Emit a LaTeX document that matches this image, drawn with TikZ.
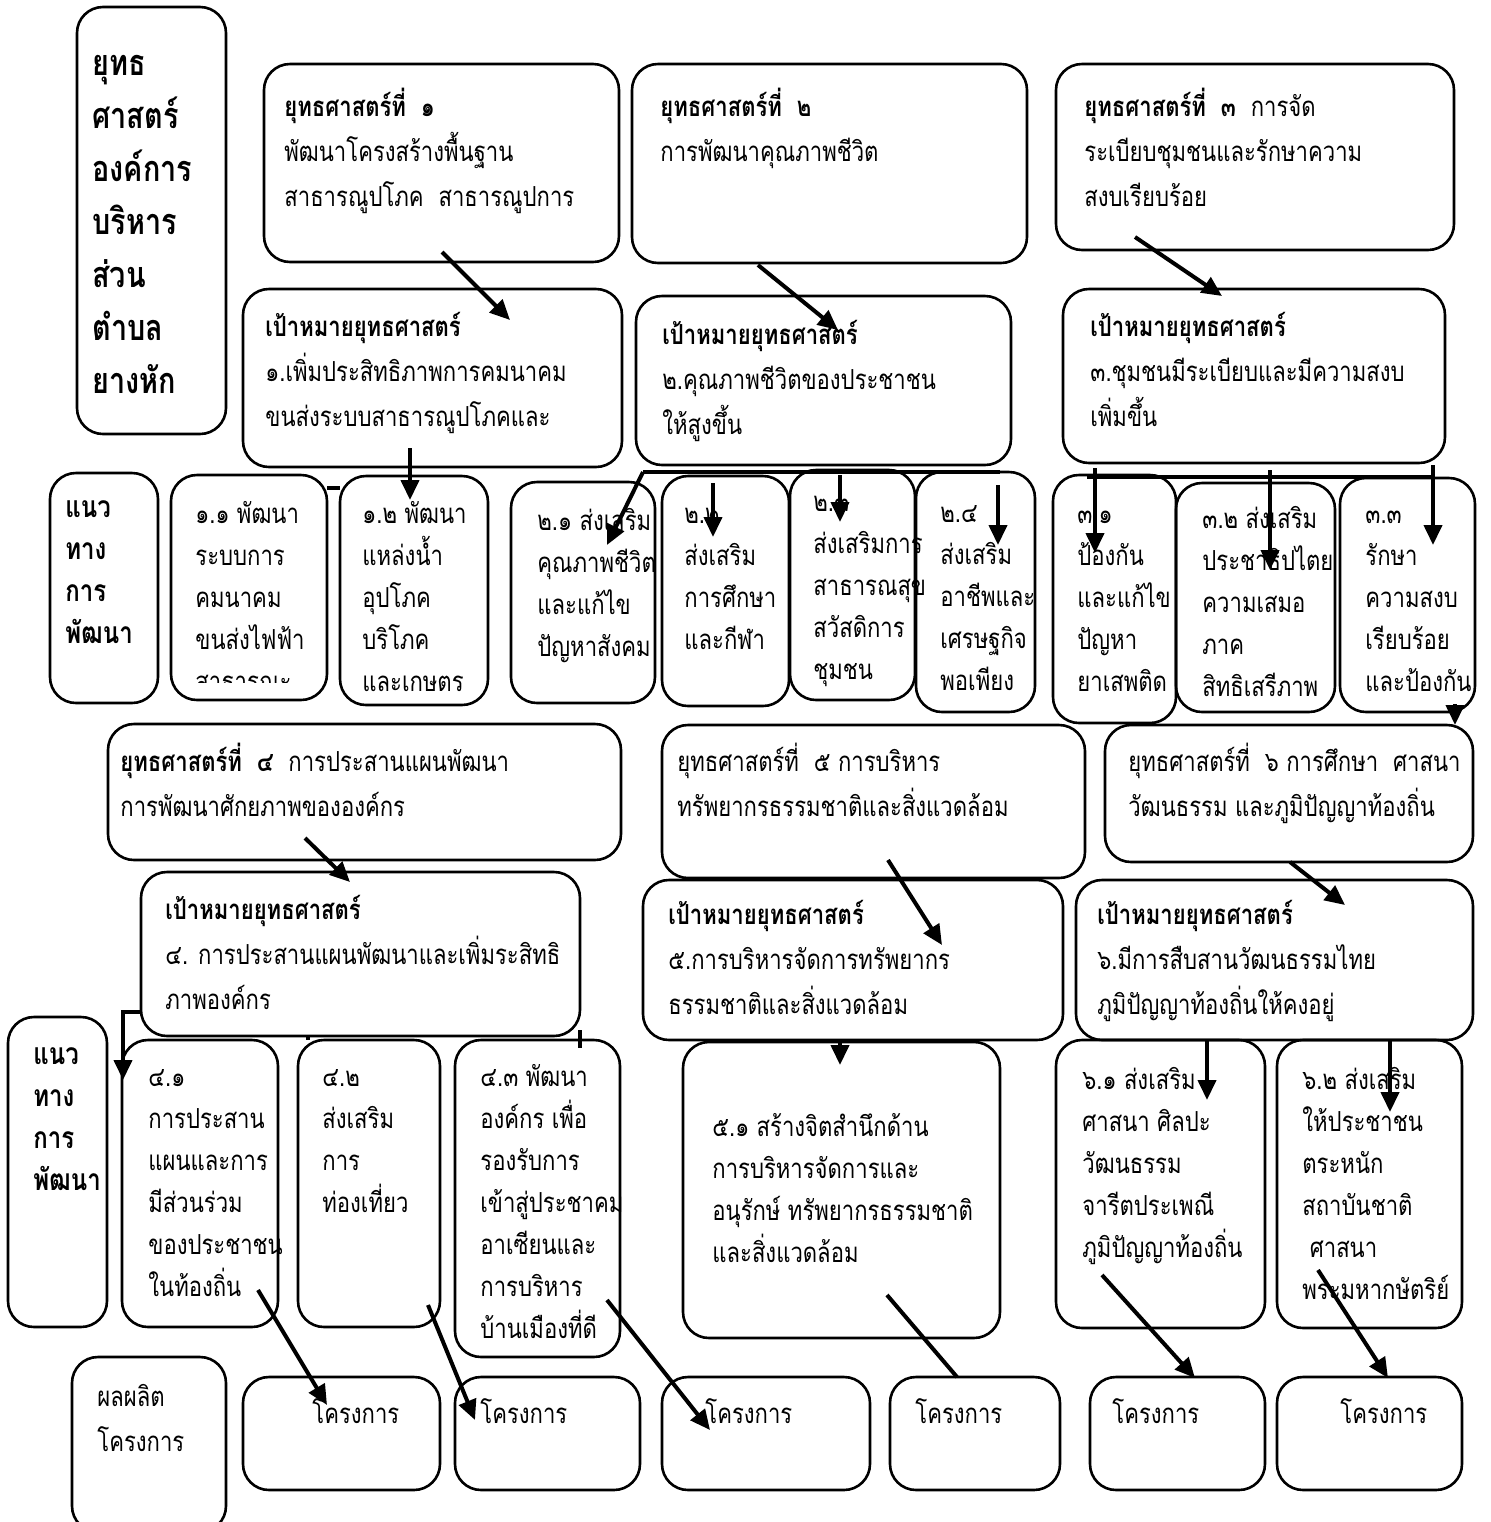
\documentclass[tikz,border=0pt]{standalone}
\usepackage{fontspec}
\newfontfamily\thai[Script=Thai,FakeStretch=0.8]{Loma}
\usetikzlibrary{arrows.meta,calc}

\begin{document}
\begin{tikzpicture}[
x=0.5pt, y=-0.5pt,
block/.style={rectangle, draw, line width=1.3pt, rounded corners=13pt, inner sep=0pt, outer sep=0pt, anchor=north west},
sz/.style 2 args={minimum width=#1*0.5pt, minimum height=#2*0.5pt},
txt/.style={anchor=north west, align=left, inner sep=0pt, font=\thai\fontsize{13.8}{22.5}\selectfont},
tnar/.style={txt, font=\thai\fontsize{13.8}{21}\selectfont},
thead/.style={txt, font=\thai\bfseries\fontsize{18}{26.5}\selectfont},
tway/.style={txt, font=\thai\bfseries\fontsize{15}{21}\selectfont},
arr/.style={line width=2pt, -{Triangle[length=10pt,width=9pt]}},
ln/.style={line width=2pt}
]
\useasboundingbox (0,0) rectangle (1490,1522);

% strategies and goals, top part
\node[block, sz={149}{427}] (title) at (77,7) {};
\node[block, sz={355}{198}] (strat1) at (264,64) {};
\node[block, sz={395}{199}] (strat2) at (632,64) {};
\node[block, sz={398}{186}] (strat3) at (1056,64) {};
\node[block, sz={379}{178}] (goal1) at (243,289) {};
\node[block, sz={375}{169}] (goal2) at (636,296) {};
\node[block, sz={382}{174}] (goal3) at (1063,289) {};

% ways, first row
\node[block, sz={108}{230}] (wayA) at (50,473) {};
\node[block, sz={156}{225}] (way11) at (171,475) {};
\node[block, sz={148}{229}] (way12) at (340,476) {};
\node[block, sz={144}{221}] (way21) at (511,482) {};
\node[block, sz={127}{230}] (way22) at (662,476) {};
\node[block, sz={125}{230}] (way23) at (790,470) {};
\node[block, sz={119}{240}] (way24) at (916,472) {};
\node[block, sz={123}{248}] (way31) at (1053,475) {};
\node[block, sz={159}{229}] (way32) at (1176,483) {};
\node[block, sz={135}{234}] (way33) at (1340,478) {};

% strategies and goals, lower part
\node[block, sz={513}{136}] (strat4) at (108,724) {};
\node[block, sz={423}{153}] (strat5) at (662,725) {};
\node[block, sz={368}{137}] (strat6) at (1105,725) {};
\node[block, sz={439}{164}] (goal4) at (141,872) {};
\node[block, sz={420}{160}] (goal5) at (643,880) {};
\node[block, sz={397}{160}] (goal6) at (1076,880) {};

% ways, second row
\node[block, sz={99}{310}] (wayB) at (8,1017) {};
\node[block, sz={156}{287}] (way41) at (122,1040) {};
\node[block, sz={142}{287}] (way42) at (298,1040) {};
\node[block, sz={165}{317}] (way43) at (455,1040) {};
\node[block, sz={317}{296}] (way51) at (683,1042) {};
\node[block, sz={209}{288}] (way61) at (1056,1040) {};
\node[block, sz={185}{288}] (way62) at (1277,1040) {};

% outputs
\node[block, sz={154}{175}] (output) at (72,1357) {};
\node[block, sz={197}{113}] (proj1) at (243,1377) {};
\node[block, sz={185}{113}] (proj2) at (455,1377) {};
\node[block, sz={208}{113}] (proj3) at (662,1377) {};
\node[block, sz={170}{113}] (proj4) at (890,1377) {};
\node[block, sz={175}{113}] (proj5) at (1090,1377) {};
\node[block, sz={185}{113}] (proj6) at (1277,1377) {};

% texts
\node[thead] (titletext) at (92,38) {\strut ยุทธ\\ศาสตร์\\องค์การ\\บริหาร\\ส่วน\\ตำบล\\ยางหัก};
\node[txt] (strat1text) at (284,85) {\strut\textbf{ยุทธศาสตร์ที่~ ๑}\\พัฒนาโครงสร้างพื้นฐาน\\สาธารณูปโภค~ สาธารณูปการ};
\node[txt] (strat2text) at (660,85) {\strut\textbf{ยุทธศาสตร์ที่~ ๒}\\การพัฒนาคุณภาพชีวิต};
\node[txt] (strat3text) at (1084,85) {\strut\textbf{ยุทธศาสตร์ที่~ ๓}~ การจัด\\ระเบียบชุมชนและรักษาความ\\สงบเรียบร้อย};
\node[txt] (goal1text) at (265,305) {\strut\textbf{เป้าหมายยุทธศาสตร์}\\๑.เพิ่มประสิทธิภาพการคมนาคม\\ขนส่งระบบสาธารณูปโภคและ};
\node[txt] (goal2text) at (662,313) {\strut\textbf{เป้าหมายยุทธศาสตร์}\\๒.คุณภาพชีวิตของประชาชน\\ให้สูงขึ้น};
\node[txt] (goal3text) at (1090,305) {\strut\textbf{เป้าหมายยุทธศาสตร์}\\๓.ชุมชนมีระเบียบและมีความสงบ\\เพิ่มขึ้น};

\node[tway] (wayAtext) at (65,488) {\strut แนว\\ทาง\\การ\\พัฒนา};
\begin{scope}
\clip (171,475) rectangle (327,682);
\node[tnar] (way11text) at (195,494) {\strut ๑.๑ พัฒนา\\ระบบการ\\คมนาคม\\ขนส่งไฟฟ้า\\สาธารณะ};
\end{scope}
\node[tnar] (way12text) at (362,494) {\strut ๑.๒ พัฒนา\\แหล่งน้ำ\\อุปโภค\\บริโภค\\และเกษตร};
\node[tnar] (way21text) at (537,501) {\strut ๒.๑ ส่งเสริม\\คุณภาพชีวิต\\และแก้ไข\\ปัญหาสังคม};
\node[tnar] (way22text) at (684,494) {\strut ๒.๒\\ส่งเสริม\\การศึกษา\\และกีฬา};
\node[tnar] (way23text) at (813,482) {\strut ๒.๓\\ส่งเสริมการ\\สาธารณสุข\\สวัสดิการ\\ชุมชน};
\node[tnar] (way24text) at (940,493) {\strut ๒.๔\\ส่งเสริม\\อาชีพและ\\เศรษฐกิจ\\พอเพียง};
\node[tnar] (way31text) at (1077,494) {\strut ๓.๑\\ป้องกัน\\และแก้ไข\\ปัญหา\\ยาเสพติด};
\node[tnar] (way32text) at (1202,499) {\strut ๓.๒ ส่งเสริม\\ประชาธิปไตย\\ความเสมอ\\ภาค\\สิทธิเสรีภาพ};
\node[tnar] (way33text) at (1365,494) {\strut ๓.๓\\รักษา\\ความสงบ\\เรียบร้อย\\และป้องกัน};

\node[txt] (strat4text) at (120,740) {\strut\textbf{ยุทธศาสตร์ที่~ ๔}~ การประสานแผนพัฒนา\\การพัฒนาศักยภาพขององค์กร};
\node[txt] (strat5text) at (677,740) {\strut ยุทธศาสตร์ที่~ ๕ การบริหาร\\ทรัพยากรธรรมชาติและสิ่งแวดล้อม};
\node[txt] (strat6text) at (1128,740) {\strut ยุทธศาสตร์ที่~ ๖ การศึกษา~ ศาสนา\\วัฒนธรรม และภูมิปัญญาท้องถิ่น};
\node[txt] (goal4text) at (165,888) {\strut\textbf{เป้าหมายยุทธศาสตร์}\\๔. การประสานแผนพัฒนาและเพิ่มระสิทธิ\\ภาพองค์กร};
\node[txt] (goal5text) at (668,893) {\strut\textbf{เป้าหมายยุทธศาสตร์}\\๕.การบริหารจัดการทรัพยากร\\ธรรมชาติและสิ่งแวดล้อม};
\node[txt] (goal6text) at (1097,893) {\strut\textbf{เป้าหมายยุทธศาสตร์}\\๖.มีการสืบสานวัฒนธรรมไทย\\ภูมิปัญญาท้องถิ่นให้คงอยู่};

\node[tway] (wayBtext) at (33,1035) {\strut แนว\\ทาง\\การ\\พัฒนา};
\node[tnar] (way41text) at (148,1057) {\strut ๔.๑\\การประสาน\\แผนและการ\\มีส่วนร่วม\\ของประชาชน\\ในท้องถิ่น};
\node[tnar] (way42text) at (322,1057) {\strut ๔.๒\\ส่งเสริม\\การ\\ท่องเที่ยว};
\node[tnar] (way43text) at (480,1057) {\strut ๔.๓ พัฒนา\\องค์กร เพื่อ\\รองรับการ\\เข้าสู่ประชาคม\\อาเซียนและ\\การบริหาร\\บ้านเมืองที่ดี};
\node[tnar] (way51text) at (712,1107) {\strut ๕.๑ สร้างจิตสำนึกด้าน\\การบริหารจัดการและ\\อนุรักษ์ ทรัพยากรธรรมชาติ\\และสิ่งแวดล้อม};
\node[tnar] (way61text) at (1082,1060) {\strut ๖.๑ ส่งเสริม\\ศาสนา ศิลปะ\\วัฒนธรรม\\จารีตประเพณี\\ภูมิปัญญาท้องถิ่น};
\node[tnar] (way62text) at (1302,1060) {\strut ๖.๒ ส่งเสริม\\ให้ประชาชน\\ตระหนัก\\สถาบันชาติ\\~ศาสนา\\พระมหากษัตริย์};

\node[txt] (outputtext) at (97,1375) {\strut ผลผลิต\\โครงการ};
\node[txt] (proj1text) at (312,1392) {\strut โครงการ};
\node[txt] (proj2text) at (480,1392) {\strut โครงการ};
\node[txt] (proj3text) at (705,1392) {\strut โครงการ};
\node[txt] (proj4text) at (915,1392) {\strut โครงการ};
\node[txt] (proj5text) at (1112,1392) {\strut โครงการ};
\node[txt] (proj6text) at (1340,1392) {\strut โครงการ};

% connectors
\draw[arr] ($(strat1.south west)+(178,-10)$) -- ($(goal1.north west)+(267,31)$);
\draw[arr] ($(strat2.south west)+(126,2)$) -- ($(goal2.north west)+(202,34)$);
\draw[arr] ($(strat3.south west)+(79,-13)$) -- ($(goal3.north west)+(159,7)$);
\draw[arr] ($(goal1.south west)+(167,-19)$) -- ($(way12.north west)+(70,24)$);
\draw[ln] ($(way11.north east)+(0,13)$) -- ($(way12.north west)+(0,12)$);
\draw[ln] ($(goal2.south west)+(7,7)$) -- ($(goal2.south east)+(-11,7)$);
\draw[arr] ($(goal2.south west)+(7,7)$) -- ($(way21.north west)+(96,63)$);
\draw[arr] ($(goal2.south west)+(77,18)$) -- ($(way22.north west)+(51,61)$);
\draw[arr] ($(goal2.south west)+(204,10)$) -- ($(way23.north west)+(50,52)$);
\draw[arr] ($(goal2.south west)+(362,20)$) -- ($(way24.north west)+(82,73)$);
\draw[ln] ($(goal3.south west)+(24,14)$) -- ($(goal3.south east)+(-12,14)$);
\draw[arr] ($(goal3.south west)+(32,5)$) -- ($(way31.north west)+(42,78)$);
\draw[arr] ($(goal3.south west)+(207,7)$) -- ($(way32.north west)+(94,87)$);
\draw[arr] ($(goal3.south west)+(370,2)$) -- ($(way33.north west)+(93,67)$);
\draw[arr] ($(way33.south west)+(115,-8)$) -- ($(strat6.north west)+(350,0)$);
\draw[arr] ($(strat4.south west)+(197,-22)$) -- ($(goal4.north west)+(209,10)$);
\draw[arr] ($(strat5.south west)+(226,-18)$) -- ($(goal5.north west)+(299,65)$);
\draw[arr] ($(strat6.south west)+(185,0)$) -- ($(goal6.north west)+(269,25)$);
\draw[arr] ($(goal4.south west)+(0,-24)$) -| ($(way41.north west)+(1,40)$);
\draw[ln] ($(goal4.south west)+(167,0)$) -- ($(way42.north west)+(10,0)$);
\draw[ln] ($(goal4.south east)+(0,-6)$) -- ($(way43.north east)+(-40,8)$);
\draw[arr] ($(goal5.south west)+(197,0)$) -- ($(way51.north west)+(157,23)$);
\draw[arr] ($(goal6.south west)+(131,0)$) -- ($(way61.north west)+(151,60)$);
\draw[arr] ($(goal6.south west)+(314,0)$) -- ($(way62.north west)+(113,72)$);
\draw[arr] ($(way41.south west)+(136,-37)$) -- ($(proj1.north west)+(84,28)$);
\draw[arr] ($(way42.south west)+(130,-22)$) -- ($(proj2.north west)+(20,43)$);
\draw[arr] ($(way43.south west)+(152,-57)$) -- ($(proj3.north west)+(48,53)$);
\draw[ln] ($(way51.south west)+(204,-43)$) -- ($(proj4.north west)+(67,0)$);
\draw[arr] ($(way61.south west)+(46,-53)$) -- ($(proj5.north west)+(105,1)$);
\draw[arr] ($(way62.south west)+(41,-58)$) -- ($(proj6.north west)+(111,1)$);
\end{tikzpicture}
\end{document}
